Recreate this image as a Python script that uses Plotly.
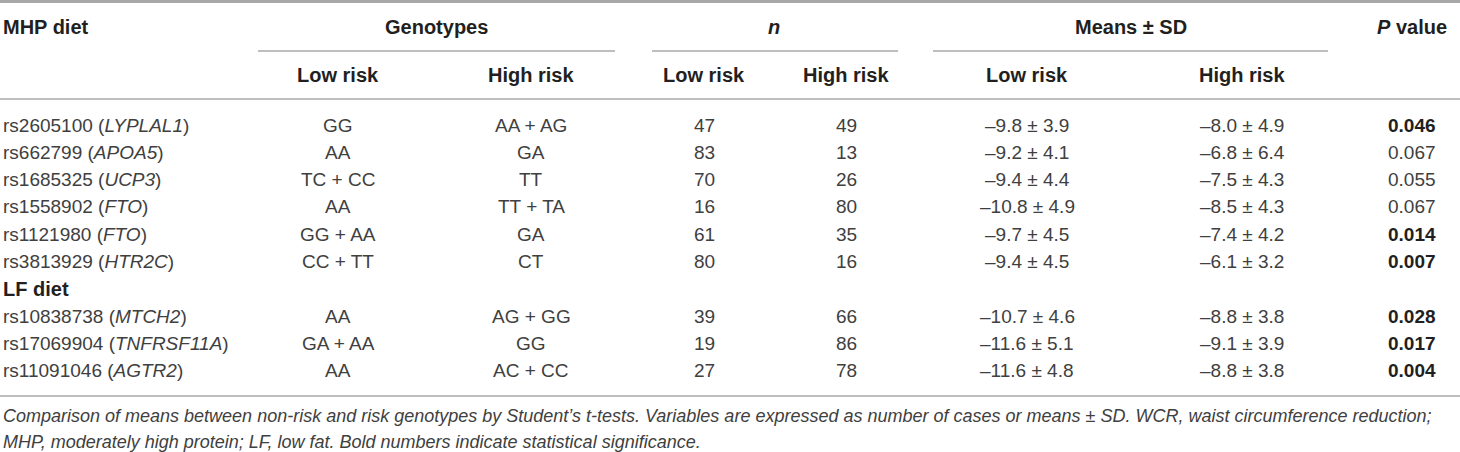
import plotly.graph_objects as go

# Table data
snps = ["rs2605100", "rs662799", "rs1685325", "rs1558902", "rs1121980", "rs3813929",
        "rs10838738", "rs17069904", "rs11091046"]
genes = ["LYPLAL1", "APOA5", "UCP3", "FTO", "FTO", "HTR2C",
         "MTCH2", "TNFRSF11A", "AGTR2"]
diet = ["MHP", "MHP", "MHP", "MHP", "MHP", "MHP", "LF", "LF", "LF"]
geno_low = ["GG", "AA", "TC + CC", "AA", "GG + AA", "CC + TT", "AA", "GA + AA", "AA"]
geno_high = ["AA + AG", "GA", "TT", "TT + TA", "GA", "CT", "AG + GG", "GG", "AC + CC"]
n_low = [47, 83, 70, 16, 61, 80, 39, 19, 27]
n_high = [49, 13, 26, 80, 35, 16, 66, 86, 78]
mean_low = [-9.8, -9.2, -9.4, -10.8, -9.7, -9.4, -10.7, -11.6, -11.6]
sd_low = [3.9, 4.1, 4.4, 4.9, 4.5, 4.5, 4.6, 5.1, 4.8]
mean_high = [-8.0, -6.8, -7.5, -8.5, -7.4, -6.1, -8.8, -9.1, -8.8]
sd_high = [4.9, 6.4, 4.3, 4.3, 4.2, 3.2, 3.8, 3.9, 3.8]
p_values = [0.046, 0.067, 0.055, 0.067, 0.014, 0.007, 0.028, 0.017, 0.004]

caption = ["Comparison of means between non-risk and risk genotypes by Student’s t-tests. "
           "Variables are expressed as number of cases or means ± SD. WCR, waist circumference reduction;",
           "MHP, moderately high protein; LF, low fat. Bold numbers indicate statistical significance."]

FONT = "Liberation Sans, Arial, Helvetica, sans-serif"
HEAD = "#231f20"
BODY = "#404040"
LINE = "#a8a8a8"

# column centres (px)
cols = [338, 531, 704, 846, 1027, 1242, 1412]

def fmt(m, s):
    return ("–" if m < 0 else "") + f"{abs(m):.1f} ± {s:.1f}"

ann = []

def add(text, x, y, anchor="center", size=19, color=BODY):
    ann.append(dict(text=text, x=x, y=y, xref="x", yref="y", xanchor=anchor,
                    yanchor="middle", showarrow=False,
                    font=dict(family=FONT, size=size, color=color)))

# header rows
add("<b>MHP diet</b>", 1, 27, "left", 20, HEAD)
add("<b>Genotypes</b>", 436, 27, size=20, color=HEAD)
add("<b><i>n</i></b>", 774, 27, size=20, color=HEAD)
add("<b>Means ± SD</b>", 1131, 27, size=20, color=HEAD)
add("<b><i>P</i> value</b>", 1412, 27, size=20, color=HEAD)
for k, cx in enumerate(cols[:6]):
    add("<b>Low risk</b>" if k % 2 == 0 else "<b>High risk</b>", cx, 75, size=20, color=HEAD)

# body rows
row = 0
pitch = 27.3
prev = diet[0]
for i in range(len(snps)):
    if diet[i] != prev:
        add(f"<b>{diet[i]} diet</b>", 1, 125 + row * pitch, "left", 20, HEAD)
        row += 1
        prev = diet[i]
    y = 125 + row * pitch
    add(f"{snps[i]} (<i>{genes[i]}</i>)", 1, y, "left")
    add(geno_low[i], cols[0], y)
    add(geno_high[i], cols[1], y)
    add(str(n_low[i]), cols[2], y)
    add(str(n_high[i]), cols[3], y)
    add(fmt(mean_low[i], sd_low[i]), cols[4], y)
    add(fmt(mean_high[i], sd_high[i]), cols[5], y)
    p = f"{p_values[i]:.3f}"
    add(f"<b>{p}</b>" if p_values[i] < 0.05 else p, cols[6], y,
        color=HEAD if p_values[i] < 0.05 else BODY)
    row += 1

# caption
add(f"<i>{caption[0]}</i>", 1, 416, "left", 18, BODY)
add(f"<i>{caption[1]}</i>", 1, 442, "left", 18, BODY)

# rules
shapes = [dict(type="line", x0=0, x1=1460, y0=1.5, y1=1.5, line=dict(color=LINE, width=3))]
for x0, x1 in [(258, 615), (652, 898), (933, 1328)]:
    shapes.append(dict(type="line", x0=x0, x1=x1, y0=51, y1=51, line=dict(color=LINE, width=1.5)))
for yy in [99, 396]:
    shapes.append(dict(type="line", x0=0, x1=1460, y0=yy, y1=yy, line=dict(color=LINE, width=1.5)))
for s in shapes:
    s.update(xref="x", yref="y")

fig = go.Figure()
fig.update_layout(
    width=1460, height=452,
    margin=dict(l=0, r=0, t=0, b=0),
    paper_bgcolor="white", plot_bgcolor="white",
    xaxis=dict(range=[0, 1460], visible=False, fixedrange=True),
    yaxis=dict(range=[452, 0], visible=False, fixedrange=True),
    annotations=ann, shapes=shapes, showlegend=False,
)

fig.write_html("out.html", config={"displayModeBar": False},
               post_script="document.body.style.margin='0';document.body.style.overflow='hidden';")
